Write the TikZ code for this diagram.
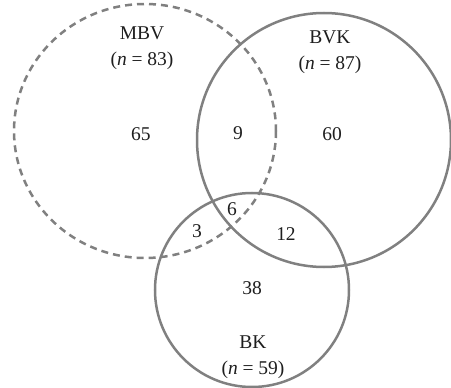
\documentclass[tikz,border=0pt]{standalone}
\usepackage{fontspec}
\setmainfont{Liberation Serif}
\definecolor{ring}{HTML}{808080}
\definecolor{ink}{HTML}{1E1E1E}
\tikzset{
  ringline/.style={draw=ring, line width=2.5pt},
  lbl/.style={text=ink, font=\fontsize{19.5}{26}\selectfont, align=center, inner sep=0pt},
}
\begin{document}
\begin{tikzpicture}[x=1pt,y=-1pt]
\useasboundingbox (0,0) rectangle (451,388);
\draw[ringline, dash pattern=on 7pt off 5pt] (145,131) ellipse [x radius=131, y radius=127];
\draw[ringline] (324,140) circle [radius=127];
\draw[ringline] (252,290) circle [radius=97];
\node[lbl] (mbv) at (142,48) {MBV\\(\textit{n} = 83)};
\node[lbl] (bvk) at (330,52) {BVK\\(\textit{n} = 87)};
\node[lbl] (bk) at (253,357) {BK\\(\textit{n} = 59)};
\node[lbl] (a) at (141,134) {65};
\node[lbl] (b) at (238,133) {9};
\node[lbl] (c) at (332,134) {60};
\node[lbl] (d) at (232,209) {6};
\node[lbl] (e) at (197,231) {3};
\node[lbl] (f) at (286,234) {12};
\node[lbl] (g) at (252,288) {38};
\end{tikzpicture}
\end{document}
